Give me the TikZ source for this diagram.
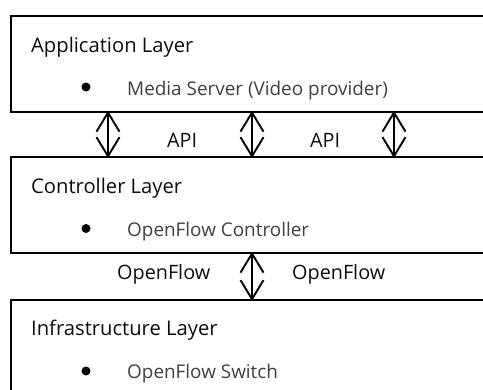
\documentclass[tikz,border=0pt]{standalone}
\usepackage{fontspec}
\setmainfont{Open Sans}
\usetikzlibrary{arrows.meta}
\definecolor{itemgray}{HTML}{404040}
\tikzset{
  layerbox/.style={draw=black, line width=1.8pt, rectangle, inner sep=0pt, anchor=north west},
  heading/.style={anchor=base west, inner sep=0pt, font=\fontsize{20.2}{23}\selectfont, text=black!95},
  itemtext/.style={anchor=base west, inner sep=0pt, font=\fontsize{18.9}{22}\selectfont, text=itemgray},
  bulletdot/.style={circle, fill=black, inner sep=0pt, minimum size=9pt},
  lbl/.style={anchor=base west, inner sep=0pt, font=\fontsize{19.8}{22}\selectfont, text=black!95},
  dbl/.style={line width=1.9pt, {Straight Barb[length=19pt,width=23pt,line join=miter]}-{Straight Barb[length=19pt,width=23pt,line join=miter]}}
}
\begin{document}
\begin{tikzpicture}[x=1pt,y=-1pt]
\useasboundingbox (0,0) rectangle (483,390);
\clip (0,0) rectangle (483,390);
% boxes
\node[layerbox, minimum width=490pt, minimum height=96pt] (app) at (10,15) {};
\node[layerbox, minimum width=490pt, minimum height=96pt] (ctl) at (10,156) {};
\node[layerbox, minimum width=490pt, minimum height=110pt] (inf) at (10,299) {};
% texts
\node[heading] (apph) at (31,52.5) {Application Layer};
\node[bulletdot] (appb) at (86,87) {};
\node[itemtext] (appi) at (127,95.5) {Media Server (Video provider)};
\node[heading] (ctlh) at (31,193.5) {Controller Layer};
\node[bulletdot] (ctlb) at (86,228.5) {};
\node[itemtext] (ctli) at (127,236.5) {OpenFlow Controller};
\node[heading] (infh) at (31,336) {Infrastructure Layer};
\node[bulletdot] (infb) at (86,371) {};
\node[itemtext] (infi) at (127,379) {OpenFlow Switch};
% labels
\node[lbl] (api1) at (167,148) {API};
\node[lbl] (api2) at (310,148) {API};
\node[lbl] (of1) at (117,280) {OpenFlow};
\node[lbl] (of2) at (292,280) {OpenFlow};
% arrow positions
\coordinate (a1) at (108,0);
\coordinate (a2) at (252,0);
\coordinate (a3) at (394,0);
\draw[dbl] ([yshift=2pt]app.south -| a1) -- ([yshift=-2pt]ctl.north -| a1);
\draw[dbl] ([yshift=2pt]app.south -| a2) -- ([yshift=-2pt]ctl.north -| a2);
\draw[dbl] ([yshift=2pt]app.south -| a3) -- ([yshift=-2pt]ctl.north -| a3);
\draw[dbl] ([yshift=2pt]ctl.south -| a2) -- ([yshift=-2pt]inf.north -| a2);
\end{tikzpicture}
\end{document}
